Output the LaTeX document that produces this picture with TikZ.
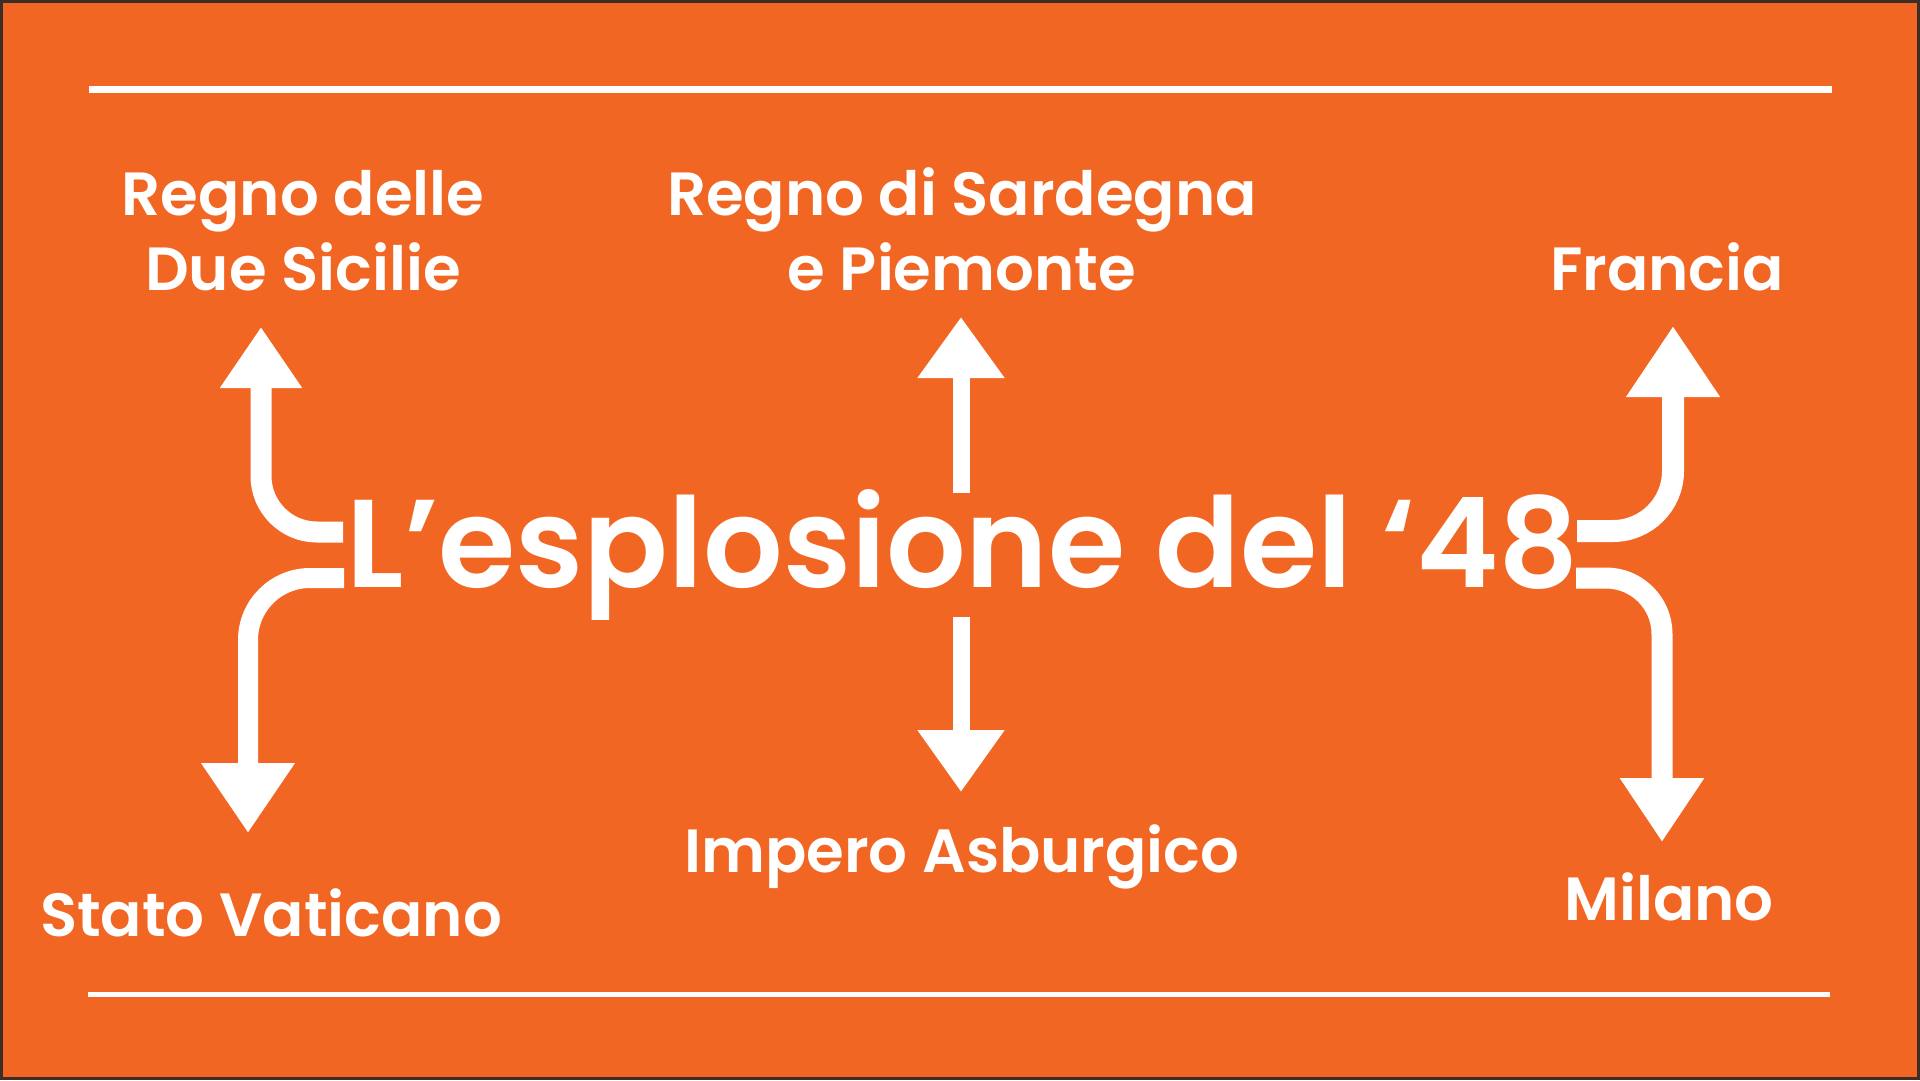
\documentclass[tikz,border=0pt]{standalone}
\usepackage{fontspec}
\IfFontExistsTF{Poppins SemiBold}
  {\setmainfont{Poppins}[BoldFont={Poppins SemiBold}]}
  {\setmainfont{Poppins}}
\usetikzlibrary{arrows.meta}
\definecolor{bgorange}{RGB}{242,102,35}
\definecolor{frame}{RGB}{60,45,40}
\tikzset{
  lbl/.style={text=white, font=\fontsize{61}{75}\selectfont\bfseries, inner sep=0pt, align=center, anchor=base},
  ttl/.style={text=white, font=\fontsize{125}{130}\selectfont\bfseries, inner sep=0pt, anchor=base},
  conn/.style={draw=white, line width=#1},
  tipA/.style 2 args={-{Triangle[width=#1, length=#2]}},
  rule/.style={draw=white, line width=#1}
}
\begin{document}
\begin{tikzpicture}[x=1pt, y=-1pt]
  \fill[bgorange] (0,0) rectangle (1920,1080);
  \useasboundingbox (0,0) rectangle (1920,1080);
  \draw[frame, line width=3pt] (1.5,1.5) rectangle (1918.5,1078.5);

  % rules
  \coordinate (topL) at (89,89);
  \coordinate (topR) at (1832,89);
  \coordinate (botL) at (88,994);
  \coordinate (botR) at (1830,994);
  \draw[rule=7pt] (topL) -- (topR);
  \draw[rule=5pt] (botL) -- (botR);

  % title
  \node[ttl] (title) at (963,587) {L’esplosione del ‘48};

  % labels (base anchor = baseline of last line)
  \node[lbl] (sicilie) at (303,290) {Regno delle\\Due Sicilie};
  \node[lbl] (sardegna) at (962,290) {Regno di Sardegna\\e Piemonte};
  \node[lbl] (francia) at (1667,290) {Francia};
  \node[lbl] (vaticano) at (271,936) {Stato Vaticano};
  \node[lbl] (asburgico) at (962,872) {Impero Asburgico};
  \node[lbl] (milano) at (1669,920) {Milano};

  % connector end points
  \coordinate (ulS) at (343,532);
  \coordinate (ulT) at (261,327);
  \coordinate (llS) at (344,578);
  \coordinate (llT) at (248,833);
  \coordinate (urS) at (1577,531);
  \coordinate (urT) at (1673,326);
  \coordinate (lrS) at (1576,578);
  \coordinate (lrT) at (1662,842);
  \coordinate (cuS) at (961,493);
  \coordinate (cuT) at (961,317);
  \coordinate (cdS) at (961,617);
  \coordinate (cdT) at (961,792);

  % connectors
  \draw[conn=21pt, tipA={78pt}{61pt}, rounded corners=56pt] (ulS) -| (ulT);
  \draw[conn=20pt, tipA={89pt}{70pt}, rounded corners=62pt] (llS) -| (llT);
  \draw[conn=22pt, tipA={89pt}{71pt}, rounded corners=60pt] (urS) -| (urT);
  \draw[conn=21pt, tipA={80pt}{64pt}, rounded corners=56pt] (lrS) -| (lrT);
  \draw[conn=17pt, tipA={83pt}{61pt}] (cuS) -- (cuT);
  \draw[conn=17pt, tipA={83pt}{62pt}] (cdS) -- (cdT);
\end{tikzpicture}
\end{document}
